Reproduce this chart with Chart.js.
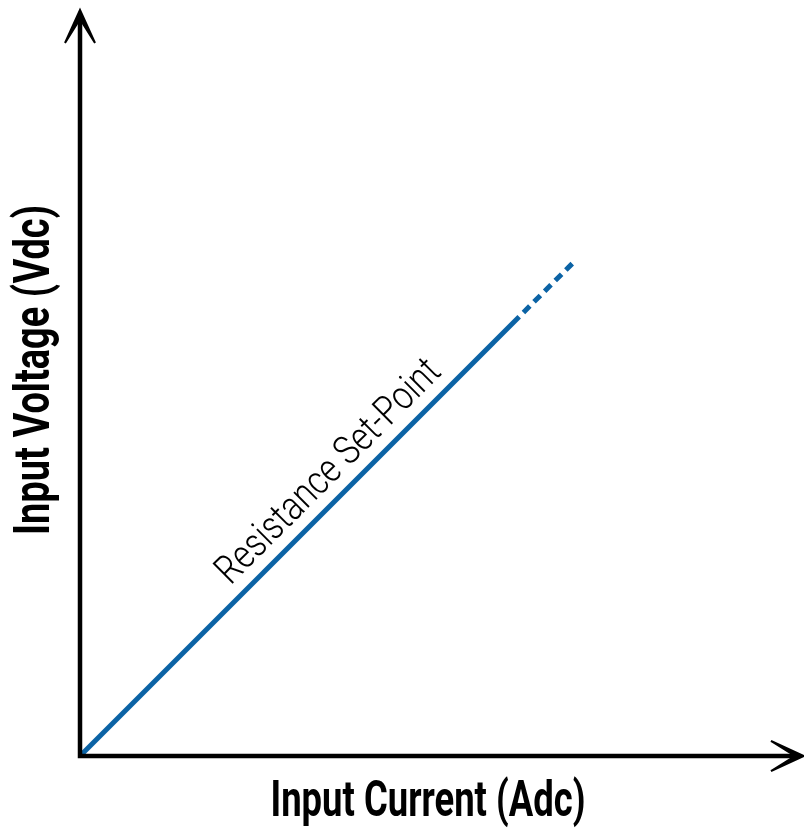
<!DOCTYPE html>
<html>
<head>
<meta charset="utf-8">
<script src="https://cdn.jsdelivr.net/npm/chart.js@4/dist/chart.umd.min.js"></script>
<style>
  html, body { margin: 0; padding: 0; background: #fff; }
  #wrap { width: 804px; height: 834px; position: relative; }
</style>
</head>
<body>
<div id="wrap"><canvas id="chart"></canvas></div>
<script>
// Data (arbitrary units, both axes start at 0)
const currentSolid = [0, 6.1];
const voltageSolid = [0, 6.1];
const currentDotted = [6.1, 6.85];
const voltageDotted = [6.1, 6.85];

const xTitle = 'Input Current (Adc)';
const yTitle = 'Input Voltage (Vdc)';
const lineLabel = 'Resistance Set-Point';
const labelAt = 3.7;

const lineColor = '#0b63a5';
const titleFont = "700 50px Roboto, 'DejaVu Sans Condensed', sans-serif";
const labelFont = "300 40px Roboto, 'DejaVu Sans Condensed', sans-serif";

function toPoints(xs, ys) {
  return xs.map((x, i) => ({ x: x, y: ys[i] }));
}

// draws text squeezed horizontally to a given width
function fitText(ctx, text, x, y, angle, font, width) {
  ctx.save();
  ctx.font = font;
  const w = ctx.measureText(text).width;
  ctx.translate(x, y);
  ctx.rotate(angle);
  ctx.scale(width / w, 1);
  ctx.textAlign = 'center';
  ctx.textBaseline = 'middle';
  ctx.fillStyle = '#000';
  ctx.fillText(text, 0, 0);
  ctx.restore();
}

function arrowHead(ctx, x, y, angle) {
  ctx.save();
  ctx.translate(x, y);
  ctx.rotate(angle);
  ctx.beginPath();
  ctx.moveTo(0, 0);
  ctx.lineTo(-15, 33);
  ctx.lineTo(0, 9);
  ctx.lineTo(15, 33);
  ctx.closePath();
  ctx.fillStyle = '#000';
  ctx.fill();
  ctx.lineWidth = 2;
  ctx.strokeStyle = '#000';
  ctx.lineJoin = 'miter';
  ctx.stroke();
  ctx.restore();
}

const axesPlugin = {
  id: 'axesPlugin',
  afterDatasetsDraw(chart) {
    const { ctx, chartArea, scales } = chart;
    const ox = scales.x.getPixelForValue(0);
    const oy = scales.y.getPixelForValue(0);
    const top = chartArea.top - 2;
    const right = chartArea.right + 4;

    ctx.save();
    ctx.strokeStyle = '#000';
    ctx.lineWidth = 4.5;
    ctx.lineCap = 'square';
    ctx.beginPath();
    ctx.moveTo(ox, top + 10);
    ctx.lineTo(ox, oy);
    ctx.lineTo(right - 10, oy);
    ctx.stroke();
    ctx.restore();

    arrowHead(ctx, ox, top, 0);
    arrowHead(ctx, right, oy, Math.PI / 2);

    // axis titles
    fitText(ctx, xTitle, 428, 803, 0, titleFont, 315);
    fitText(ctx, yTitle, 36, 370, -Math.PI / 2, titleFont, 330);

    // label along the line
    const px = scales.x.getPixelForValue(labelAt);
    const py = scales.y.getPixelForValue(labelAt);
    const d = 24 / Math.SQRT2;
    fitText(ctx, lineLabel, px - d, py - d, -Math.PI / 4, labelFont, 300);
  }
};

new Chart(document.getElementById('chart'), {
  type: 'line',
  data: {
    datasets: [
      {
        data: toPoints(currentSolid, voltageSolid),
        borderColor: lineColor,
        borderWidth: 5,
        pointRadius: 0,
        borderCapStyle: 'butt',
        tension: 0
      },
      {
        data: toPoints(currentDotted, voltageDotted),
        borderColor: lineColor,
        borderWidth: 5,
        borderDash: [9, 6],
        borderDashOffset: -6,
        pointRadius: 0,
        borderCapStyle: 'butt',
        tension: 0
      }
    ]
  },
  options: {
    responsive: true,
    maintainAspectRatio: false,
    animation: false,
    layout: { padding: { left: 80, top: 12, right: 4, bottom: 78 } },
    plugins: {
      legend: { display: false },
      tooltip: { enabled: false }
    },
    scales: {
      x: { type: 'linear', min: 0, max: 10, display: false },
      y: { type: 'linear', min: 0, max: 10.33, display: false }
    }
  },
  plugins: [axesPlugin]
});
</script>
</body>
</html>
